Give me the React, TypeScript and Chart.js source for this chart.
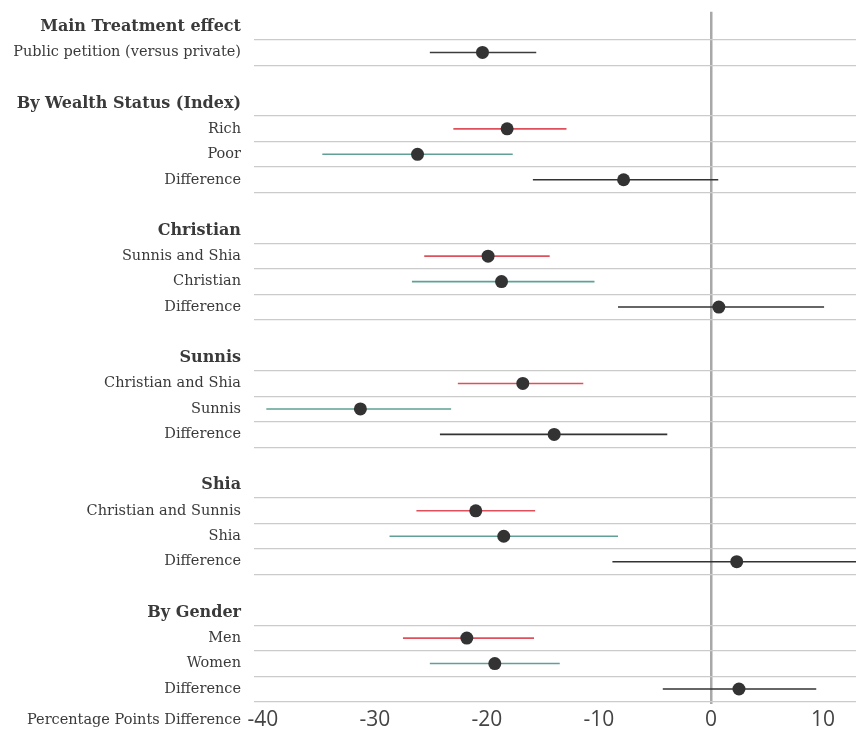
import React, { useEffect, useRef } from 'react';
import { Chart, registerables } from 'chart.js';

Chart.register(...registerables);

const rowLabels = [
  'Main Treatment effect', 'Public petition (versus private)', '',
  'By Wealth Status (Index)', 'Rich', 'Poor', 'Difference', '',
  'Christian', 'Sunnis and Shia', 'Christian', 'Difference', '',
  'Sunnis', 'Christian and Shia', 'Sunnis', 'Difference', '',
  'Shia', 'Christian and Sunnis', 'Shia', 'Difference', '',
  'By Gender', 'Men', 'Women', 'Difference',
];
const headerRows = [0, 3, 8, 13, 18, 23];

const estimates = [
  null, -20.4, null,
  null, -18.2, -26.2, -7.8, null,
  null, -19.9, -18.7, 0.7, null,
  null, -16.8, -31.3, -14.0, null,
  null, -21.0, -18.5, 2.3, null,
  null, -21.8, -19.3, 2.5,
];
const lowerCI = [
  null, -25.1, null,
  null, -23.0, -34.7, -15.9, null,
  null, -25.6, -26.7, -8.3, null,
  null, -22.6, -39.7, -24.2, null,
  null, -26.3, -28.7, -8.8, null,
  null, -27.5, -25.1, -4.3,
];
const upperCI = [
  null, -15.6, null,
  null, -12.9, -17.7, 0.65, null,
  null, -14.4, -10.4, 10.1, null,
  null, -11.4, -23.2, -3.9, null,
  null, -15.7, -8.3, 14.5, null,
  null, -15.8, -13.5, 9.4,
];
const barGroup = [
  '', 'main', '',
  '', 'first', 'second', 'diff', '',
  '', 'first', 'second', 'diff', '',
  '', 'first', 'second', 'diff', '',
  '', 'first', 'second', 'diff', '',
  '', 'first', 'second', 'diff',
];
const xTicks = [-40, -30, -20, -10, 0, 10];
const xAxisTitle = 'Percentage Points Difference';

const groupColors: Record<string, string> = {
  main: '#3c3c3c',
  first: '#e0505a',
  second: '#5fa196',
  diff: '#333333',
};

const SERIF = '"DejaVu Serif", serif';

export default function App() {
  const ref = useRef<HTMLCanvasElement>(null);

  useEffect(() => {
    document.body.style.margin = '0';
    const canvas = ref.current;
    if (!canvas) return;
    const rows = rowLabels.map((_, i) => i);
    const dots = rows
      .filter((i) => estimates[i] !== null)
      .map((i) => ({ x: estimates[i] as number, y: i }));
    const bars = rows
      .filter((i) => lowerCI[i] !== null)
      .map((i) => ({
        data: [
          { x: lowerCI[i] as number, y: i },
          { x: upperCI[i] as number, y: i },
        ],
        showLine: true,
        borderColor: groupColors[barGroup[i]],
        backgroundColor: groupColors[barGroup[i]],
        borderWidth: 1.6,
        pointRadius: 0,
        pointHoverRadius: 0,
        order: 1,
      }));

    const titlePlugin = {
      id: 'xTitleLeft',
      afterDraw(chart: any) {
        const { ctx } = chart;
        const x = chart.scales.x;
        const y = chart.scales.y;
        ctx.save();
        ctx.font = '14.5px ' + SERIF;
        ctx.fillStyle = '#3a3a3a';
        ctx.textAlign = 'right';
        ctx.textBaseline = 'middle';
        ctx.fillText(xAxisTitle, y.right - 13, x.top + 15.5);
        ctx.restore();
      },
    };

    const chart = new Chart(canvas, {
      type: 'scatter',
      data: {
        datasets: [
          {
            data: dots,
            pointRadius: 6.5,
            pointHoverRadius: 6.5,
            pointBackgroundColor: '#333333',
            pointBorderWidth: 0,
            borderColor: '#333333',
            order: 0,
          } as any,
          ...(bars as any[]),
        ],
      },
      options: {
        animation: false,
        responsive: true,
        maintainAspectRatio: false,
        events: [],
        layout: { autoPadding: false, padding: { top: 11.7, bottom: 17.5, left: 0, right: 0 } },
        plugins: { legend: { display: false }, tooltip: { enabled: false } },
        scales: {
          x: {
            type: 'linear',
            min: -40.8,
            max: 12.95,
            bounds: 'data',
            afterBuildTicks: (s: any) => {
              s.ticks = xTicks.map((v) => ({ value: v }));
            },
            afterFit: (s: any) => {
              s.paddingLeft = 0;
              s.paddingRight = 0;
            },
            border: { display: false },
            grid: {
              drawTicks: false,
              color: (ctx: any) => (ctx.tick && ctx.tick.value === 0 ? '#a8a8a8' : 'rgba(0,0,0,0)'),
              lineWidth: 2.5,
            },
            ticks: {
              autoSkip: false,
              maxRotation: 0,
              padding: 3,
              color: '#444444',
              font: { family: '"Open Sans", sans-serif', size: 21 },
            },
          },
          y: {
            type: 'linear',
            reverse: true,
            min: -0.6,
            max: rowLabels.length - 1 + 0.6,
            bounds: 'data',
            afterBuildTicks: (s: any) => {
              const t: any[] = [];
              rowLabels.forEach((_, i) => {
                t.push({ value: i });
                t.push({ value: i + 0.5 });
              });
              s.ticks = t;
            },
            afterFit: (s: any) => {
              s.width = 254;
              s.paddingTop = 0;
              s.paddingBottom = 0;
            },
            border: { display: false },
            grid: {
              drawTicks: false,
              color: (ctx: any) => {
                const v = ctx.tick ? ctx.tick.value : undefined;
                if (v === undefined || Number.isInteger(v)) return 'rgba(0,0,0,0)';
                return rowLabels[v - 0.5] ? '#cbcbcb' : 'rgba(0,0,0,0)';
              },
              lineWidth: 1.2,
            },
            ticks: {
              autoSkip: false,
              padding: 13,
              color: '#3a3a3a',
              callback: (value: any) => (Number.isInteger(value) ? rowLabels[value] : ''),
              font: (ctx: any) =>
                ctx.tick && headerRows.includes(ctx.tick.value)
                  ? { family: SERIF, size: 16, weight: 'bold' }
                  : { family: SERIF, size: 14.5 },
            },
          },
        },
      },
      plugins: [titlePlugin],
    } as any);

    return () => chart.destroy();
  }, []);

  return (
    <div style={{ position: 'relative', width: 856, height: 753 }}>
      <canvas ref={ref} />
    </div>
  );
}
